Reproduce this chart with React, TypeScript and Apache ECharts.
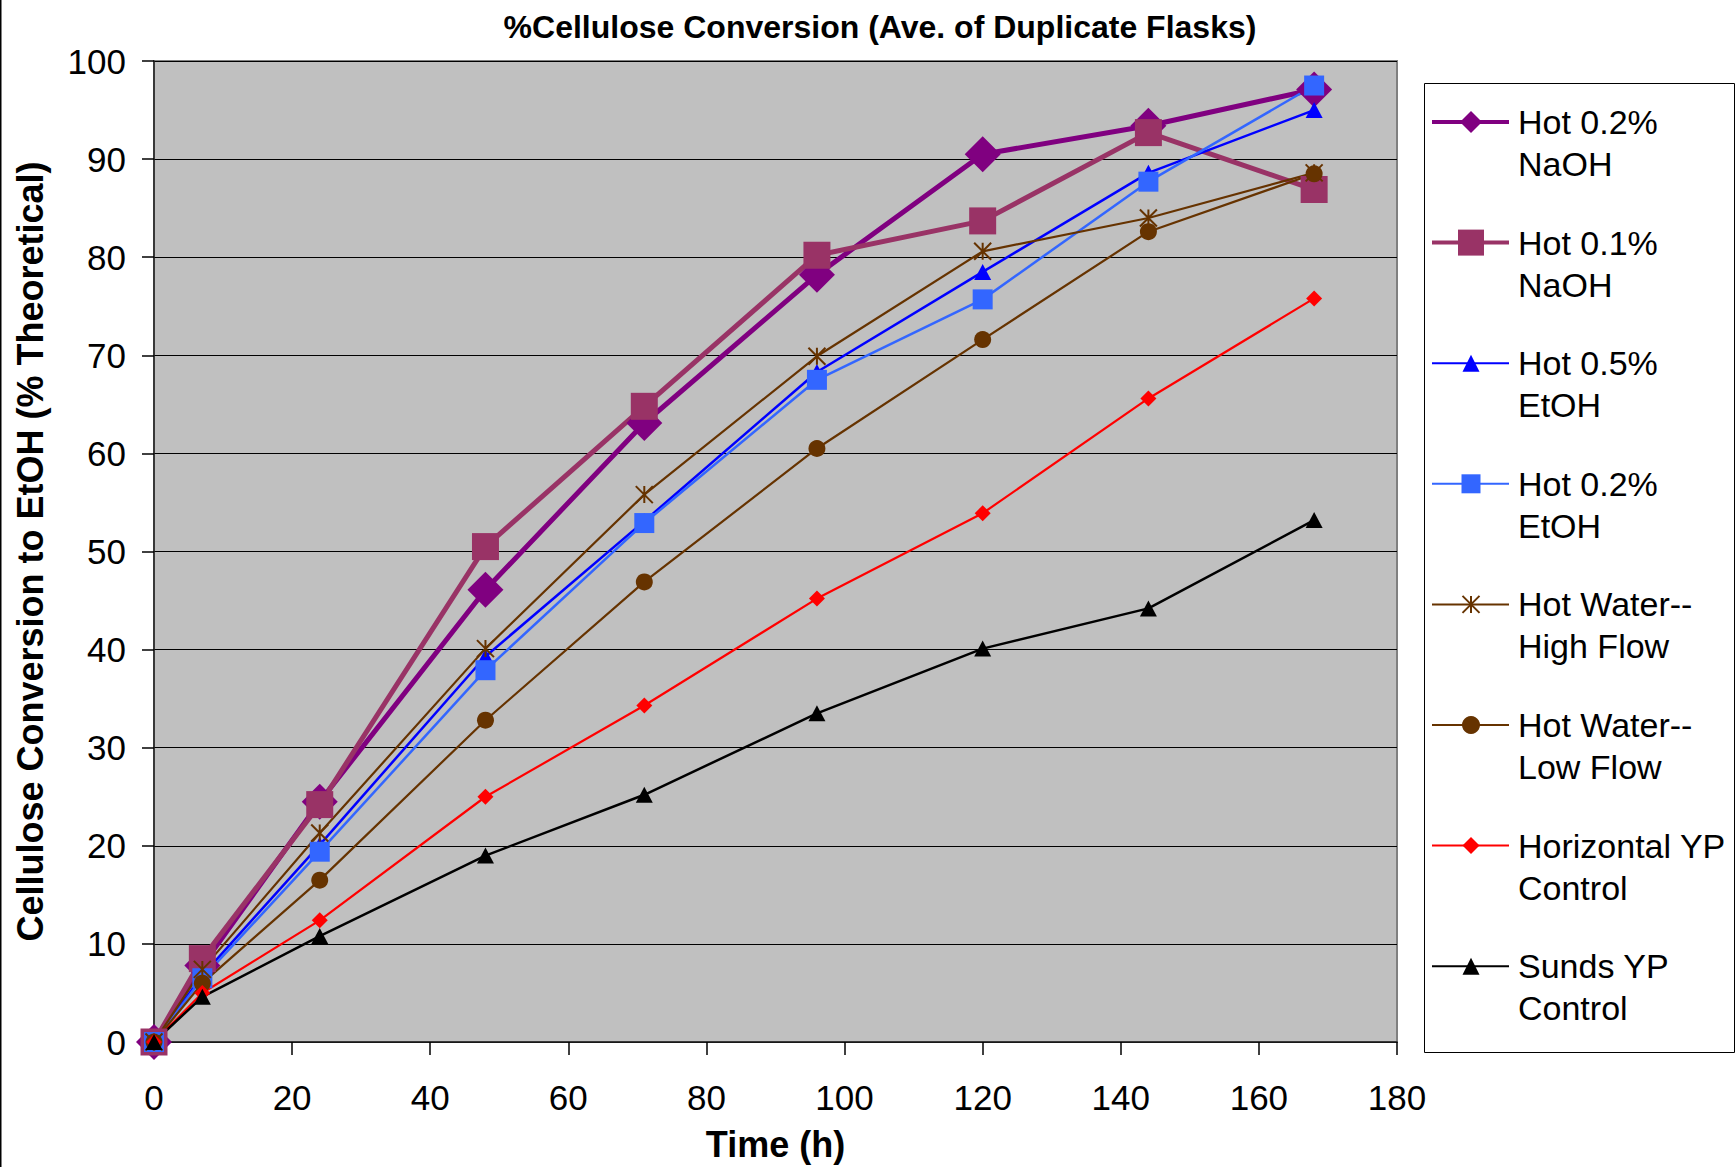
import React, { useEffect, useRef } from "react";
import * as echarts from "echarts";

const times = [0, 7, 24, 48, 71, 96, 120, 144, 168];
const naoh02 = [0, 7.8, 24.5, 46.1, 63.1, 78.2, 90.5, 93.4, 97.1];
const naoh01 = [0, 8.5, 24.2, 50.5, 64.8, 80.2, 83.7, 92.7, 86.9];
const etoh05 = [0, 6.8, 20.1, 39.3, 53.1, 68.3, 78.5, 88.6, 95.0];
const etoh02 = [0, 6.5, 19.4, 37.9, 52.9, 67.5, 75.7, 87.7, 97.5];
const hwHigh = [0, 7.4, 21.3, 40.1, 55.8, 69.9, 80.6, 84.0, 88.6];
const hwLow = [0, 6.0, 16.5, 32.8, 46.9, 60.5, 71.6, 82.6, 88.5];
const horiz = [0, 5.0, 12.4, 25.0, 34.3, 45.2, 53.9, 65.6, 75.8];
const sunds = [0, 4.6, 10.8, 19.0, 25.2, 33.5, 40.1, 44.2, 53.2];

const seriesNames = [
  "Hot 0.2%\nNaOH",
  "Hot 0.1%\nNaOH",
  "Hot 0.5%\nEtOH",
  "Hot 0.2%\nEtOH",
  "Hot Water--\nHigh Flow",
  "Hot Water--\nLow Flow",
  "Horizontal YP\nControl",
  "Sunds YP\nControl",
];
const seriesValues = [naoh02, naoh01, etoh05, etoh02, hwHigh, hwLow, horiz, sunds];

const STAR = "path://M0,0L10,10M10,0L0,10M5,0L5,10";
const FONT = "Liberation Sans, Arial, sans-serif";

const styles = [
  { color: "#800080", width: 5, symbol: "diamond", size: 36, lSize: 22, lWidth: 4 },
  { color: "#993366", width: 5, symbol: "rect", size: 27, lSize: 26, lWidth: 4 },
  { color: "#0000FF", width: 2.5, symbol: "triangle", size: 17, lSize: 17, lWidth: 2 },
  { color: "#3366FF", width: 2.5, symbol: "rect", size: 20, lSize: 19, lWidth: 2 },
  { color: "#663300", width: 2.2, symbol: STAR, size: 17, lSize: 17, lWidth: 2 },
  { color: "#663300", width: 2.2, symbol: "circle", size: 17, lSize: 18, lWidth: 2 },
  { color: "#FF0000", width: 2.2, symbol: "diamond", size: 16, lSize: 17, lWidth: 2 },
  { color: "#000000", width: 2.5, symbol: "triangle", size: 17, lSize: 17, lWidth: 2 },
];

function legendMarker(sym: string, cx: number, cy: number, s: number, color: string): any {
  const h = s / 2;
  if (sym === "diamond") {
    return { type: "polygon", shape: { points: [[cx, cy - h], [cx + h, cy], [cx, cy + h], [cx - h, cy]] }, style: { fill: color } };
  }
  if (sym === "rect") {
    return { type: "rect", shape: { x: cx - h, y: cy - h, width: s, height: s }, style: { fill: color } };
  }
  if (sym === "triangle") {
    return { type: "polygon", shape: { points: [[cx, cy - h], [cx + h, cy + h], [cx - h, cy + h]] }, style: { fill: color } };
  }
  if (sym === "circle") {
    return { type: "circle", shape: { cx, cy, r: h }, style: { fill: color } };
  }
  return {
    type: "group",
    children: [
      { type: "line", shape: { x1: cx - h, y1: cy - h, x2: cx + h, y2: cy + h }, style: { stroke: color, lineWidth: 2 } },
      { type: "line", shape: { x1: cx + h, y1: cy - h, x2: cx - h, y2: cy + h }, style: { stroke: color, lineWidth: 2 } },
      { type: "line", shape: { x1: cx, y1: cy - h, x2: cx, y2: cy + h }, style: { stroke: color, lineWidth: 2 } },
    ],
  };
}

export default function App() {
  const ref = useRef<HTMLDivElement>(null);
  useEffect(() => {
    document.body.style.margin = "0";
    const chart = echarts.init(ref.current!, undefined, { renderer: "svg" });

    const legendEls: any[] = [];
    legendEls.push({
      type: "rect",
      shape: { x: 1424.5, y: 83.5, width: 310, height: 969 },
      style: { fill: "#ffffff", stroke: "#000000", lineWidth: 1 },
      z: 0,
    });
    seriesNames.forEach((name, i) => {
      const st = styles[i];
      const cy = 122 + i * 120.6;
      legendEls.push({
        type: "line",
        shape: { x1: 1432, y1: cy, x2: 1509, y2: cy },
        style: { stroke: st.color, lineWidth: st.lWidth },
        z: 1,
      });
      const m = legendMarker(st.symbol === STAR ? "star" : st.symbol, 1471, cy, st.lSize, st.color);
      m.z = 2;
      legendEls.push(m);
      legendEls.push({
        type: "text",
        x: 1518,
        y: cy - 21,
        z: 2,
        style: {
          text: name,
          fill: "#000000",
          font: `34px ${FONT}`,
          lineHeight: 42,
          verticalAlign: "top",
        },
      });
    });
    legendEls.push({
      type: "rect",
      shape: { x: 0, y: 0, width: 1.5, height: 1167 },
      style: { fill: "#000000" },
    });

    chart.setOption({
      animation: false,
      backgroundColor: "#ffffff",
      title: {
        text: "%Cellulose Conversion (Ave. of Duplicate Flasks)",
        left: 875,
        textAlign: "center",
        top: 6,
        textStyle: { fontFamily: FONT, fontSize: 32, fontWeight: "bold", color: "#000" },
      },
      grid: {
        left: 154,
        right: 339,
        top: 61,
        bottom: 119,
        show: true,
        backgroundColor: "#C0C0C0",
        borderColor: "#808080",
        borderWidth: 2,
      },
      xAxis: {
        type: "value",
        min: 0,
        max: 180,
        interval: 20,
        name: "Time (h)",
        nameLocation: "middle",
        nameGap: 84,
        nameTextStyle: { fontFamily: FONT, fontSize: 36, fontWeight: "bold", color: "#000" },
        axisLine: { show: true, onZero: false, lineStyle: { color: "#202020", width: 1.5 } },
        axisTick: { show: true, inside: false, length: 13, lineStyle: { color: "#000", width: 1.5 } },
        axisLabel: { fontFamily: FONT, fontSize: 35, color: "#000", margin: 38 },
        splitLine: { show: false },
      },
      yAxis: {
        type: "value",
        min: 0,
        max: 100,
        interval: 10,
        name: "Cellulose Conversion to EtOH (% Theoretical)",
        nameLocation: "middle",
        nameGap: 106,
        nameTextStyle: { fontFamily: FONT, fontSize: 36, fontWeight: "bold", color: "#000" },
        axisLine: { show: true, lineStyle: { color: "#202020", width: 1.5 } },
        axisTick: { show: true, inside: false, length: 12, lineStyle: { color: "#000", width: 1.5 } },
        axisLabel: { fontFamily: FONT, fontSize: 35, color: "#000", margin: 28 },
        splitLine: { show: true, lineStyle: { color: "#000", width: 1.2 } },
      },
      graphic: legendEls,
      series: seriesNames.map((name, i) => {
        const st = styles[i];
        return {
          type: "line",
          name,
          data: times.map((t, j) => [t, seriesValues[i][j]]),
          symbol: st.symbol,
          symbolSize: st.symbol === "triangle" ? [st.size, st.size - 1] : st.size,
          showAllSymbol: true,
          lineStyle: { color: st.color, width: st.width },
          itemStyle: { color: st.color, borderColor: st.color, borderWidth: st.symbol === STAR ? 2 : 0, opacity: 1 },
          emphasis: { disabled: true },
          z: 2,
        };
      }),
    });
    return () => chart.dispose();
  }, []);
  return <div ref={ref} style={{ width: 1736, height: 1167 }} />;
}
